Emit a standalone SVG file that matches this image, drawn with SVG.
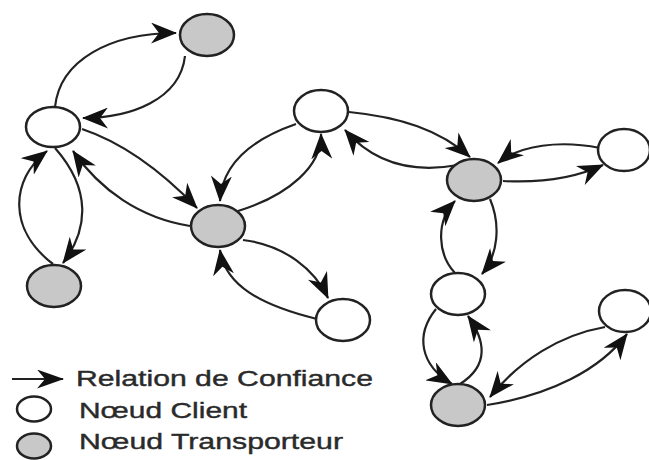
<svg xmlns="http://www.w3.org/2000/svg" width="649" height="460" viewBox="0 0 649 460">
  <defs>
    <marker id="arrow" viewBox="0 0 26 21" refX="25" refY="10.5" markerWidth="26" markerHeight="21" markerUnits="userSpaceOnUse" orient="auto">
      <path d="M0,0 L26,10.5 L0,21 L8,10.5 Z" fill="#111"/>
    </marker>
    <marker id="arrow-lg" viewBox="0 0 27 19" refX="26" refY="9.5" markerWidth="27" markerHeight="19" markerUnits="userSpaceOnUse" orient="auto">
      <path d="M0,0 L27,9.5 L0,19 L8,9.5 Z" fill="#111"/>
    </marker>
    <style>
      .client { fill: #ffffff; stroke: #222; stroke-width: 2.5; }
      .transport { fill: #c8c8c8; stroke: #222; stroke-width: 2.5; }
      .edge { fill: none; stroke: #222; stroke-width: 2.2; marker-end: url(#arrow); }
      .legend { font-family: "Liberation Sans", Arial, sans-serif; font-size: 22.5px; fill: #2a2a2a; stroke: #2a2a2a; stroke-width: 0.4; }
    </style>
  </defs>

  <rect width="649" height="460" fill="#ffffff"/>

  <!-- trust relations -->
  <g id="connectors">
    <path class="edge" d="M55,107 C60,60 110,33 176,33"/>
    <path class="edge" d="M185,56 C180,100 130,118 83,118"/>
    <path class="edge" d="M82,129 C130,145 170,180 197,208"/>
    <path class="edge" d="M190,226 C140,218 100,190 73,151"/>
    <path class="edge" d="M53,264 C8,230 10,180 47,151"/>
    <path class="edge" d="M55,148 C92,190 88,230 63,263"/>
    <path class="edge" d="M296,124 C250,140 222,165 220,201"/>
    <path class="edge" d="M238,211 C290,195 322,165 321,134"/>
    <path class="edge" d="M243,240 C285,245 315,270 328,298"/>
    <path class="edge" d="M317,319 C260,305 225,285 220,250"/>
    <path class="edge" d="M349,112 C400,117 440,130 470,157"/>
    <path class="edge" d="M458,165 C420,172 378,168 345,130"/>
    <path class="edge" d="M600,148 C560,140 520,145 498,163"/>
    <path class="edge" d="M503,181 C540,183 575,178 603,165"/>
    <path class="edge" d="M455,273 C438,255 435,222 455,201"/>
    <path class="edge" d="M490,199 C501,225 498,255 482,274"/>
    <path class="edge" d="M436,309 C415,335 420,365 452,384"/>
    <path class="edge" d="M460,384 C490,365 485,340 468,316"/>
    <path class="edge" d="M605,327 C560,335 520,360 490,397"/>
    <path class="edge" d="M487,405 C550,395 600,370 627,334"/>
  </g>

  <!-- transport nodes -->
  <g id="t1"><ellipse class="transport" cx="207" cy="35" rx="27" ry="21"/></g>
  <g id="t2"><ellipse class="transport" cx="54" cy="286" rx="27" ry="21"/></g>
  <g id="t3"><ellipse class="transport" cx="218" cy="226" rx="27" ry="21"/></g>
  <g id="t4"><ellipse class="transport" cx="474" cy="180" rx="27" ry="21"/></g>
  <g id="t5"><ellipse class="transport" cx="458" cy="405" rx="27" ry="21"/></g>

  <!-- client nodes -->
  <g id="c1"><ellipse class="client" cx="53" cy="127" rx="27" ry="20"/></g>
  <g id="c2"><ellipse class="client" cx="321" cy="111" rx="27" ry="21"/></g>
  <g id="c3"><ellipse class="client" cx="343" cy="320" rx="27" ry="21"/></g>
  <g id="c4"><ellipse class="client" cx="624" cy="150" rx="26" ry="21"/></g>
  <g id="c5"><ellipse class="client" cx="458" cy="294" rx="27" ry="21"/></g>
  <g id="c6"><ellipse class="client" cx="625" cy="311" rx="26" ry="21"/></g>

  <!-- legend -->
  <g id="legend">
    <path fill="none" stroke="#222" stroke-width="2" marker-end="url(#arrow-lg)" d="M12,379 L63,379"/>
    <text class="legend" x="76" y="386" textLength="297" lengthAdjust="spacingAndGlyphs">Relation de Confiance</text>
    <ellipse class="client" cx="34" cy="409" rx="17" ry="12.5"/>
    <text class="legend" x="79" y="418" textLength="168" lengthAdjust="spacingAndGlyphs">Nœud Client</text>
    <ellipse class="transport" cx="34" cy="446" rx="17" ry="12.5"/>
    <text class="legend" x="79" y="449" textLength="264" lengthAdjust="spacingAndGlyphs">Nœud Transporteur</text>
  </g>
</svg>
